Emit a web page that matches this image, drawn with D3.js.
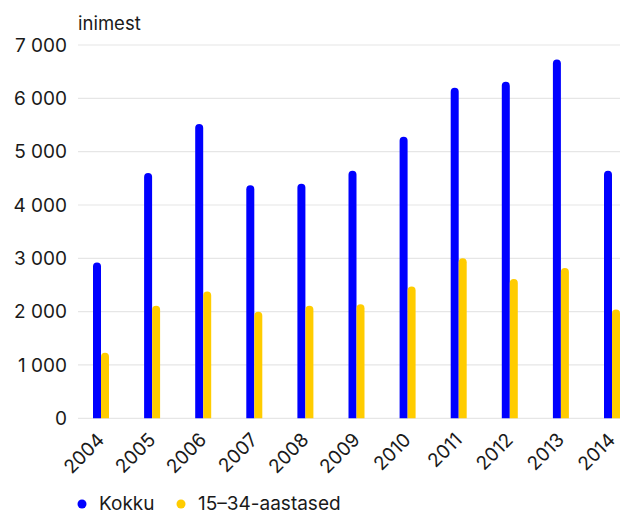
<!DOCTYPE html>
<html>
<head>
<meta charset="utf-8">
<script src="https://cdn.jsdelivr.net/npm/d3@7.9.0/dist/d3.min.js"></script>
<style>
  html, body { margin: 0; padding: 0; background: #fff; }
  svg { display: block; font-family: Inter, "Noto Sans", sans-serif; }
</style>
</head>
<body>
<div id="chart"></div>
<script>
// chart data
const years = ["2004", "2005", "2006", "2007", "2008", "2009", "2010", "2011", "2012", "2013", "2014"];
const kokku = [2920, 4600, 5520, 4370, 4400, 4640, 5280, 6200, 6310, 6730, 4640];
const noored = [1230, 2110, 2380, 2000, 2110, 2140, 2470, 3000, 2610, 2820, 2040];
const yTicks = [0, 1000, 2000, 3000, 4000, 5000, 6000, 7000];
const seriesNames = ["Kokku", "15–34-aastased"];
const colors = ["#0000ff", "#ffcc00"];
const unit = "inimest";

const width = 620, height = 514;
const marginLeft = 78, marginTop = 45, bottom = 418.3;
const barW = 8;
const fontSize = 19;

const svg = d3.select("#chart").append("svg")
    .attr("width", width)
    .attr("height", height)
    .attr("viewBox", [0, 0, width, height]);

const x = d3.scalePoint(years, [101, 612]);
const y = d3.scaleLinear([0, 7000], [bottom, marginTop]);

const fmt = d3.formatLocale({decimal: ",", thousands: " ", grouping: [3], currency: ["", ""]}).format(",");

// grid + y labels
const yAxis = svg.append("g");
yAxis.selectAll("line")
  .data(yTicks)
  .join("line")
    .attr("x1", marginLeft)
    .attr("x2", width)
    .attr("y1", d => y(d))
    .attr("y2", d => y(d))
    .attr("stroke", "#e6e6e6")
    .attr("stroke-width", 1.2);
yAxis.selectAll("text")
  .data(yTicks)
  .join("text")
    .attr("x", 67)
    .attr("y", d => y(d))
    .attr("dy", "0.36em")
    .attr("text-anchor", "end")
    .attr("fill", "#1a1a1a")
    .attr("font-size", fontSize)
    .text(d => fmt(d));

svg.append("text")
    .attr("x", marginLeft)
    .attr("y", 30)
    .attr("fill", "#1a1a1a")
    .attr("font-size", 18.5)
    .text(unit);

// bar with rounded top
const barPath = (x0, y0, w) => {
  const r = w / 2;
  return `M${x0},${bottom}V${y0 + r}A${r},${r} 0 0 1 ${x0 + w},${y0 + r}V${bottom}Z`;
};

[kokku, noored].forEach((vals, s) => {
  svg.append("g")
    .selectAll("path")
    .data(years)
    .join("path")
      .attr("fill", colors[s])
      .attr("d", (d, i) => barPath(x(d) - barW + s * barW, y(vals[i]), barW));
});

// x labels
svg.append("g")
  .selectAll("text")
  .data(years)
  .join("text")
    .attr("transform", d => `translate(${x(d) + 4.5},${441}) rotate(-45)`)
    .attr("text-anchor", "end")
    .attr("fill", "#1a1a1a")
    .attr("font-size", fontSize)
    .text(d => d);

// legend
const legend = svg.append("g");
const legendX = [82, 181];
seriesNames.forEach((name, i) => {
  legend.append("circle")
      .attr("cx", legendX[i])
      .attr("cy", 504)
      .attr("r", 4.5)
      .attr("fill", colors[i]);
  legend.append("text")
      .attr("x", legendX[i] + 17)
      .attr("y", 510)
      .attr("fill", "#1a1a1a")
      .attr("font-size", fontSize)
      .text(name);
});
</script>
</body>
</html>
